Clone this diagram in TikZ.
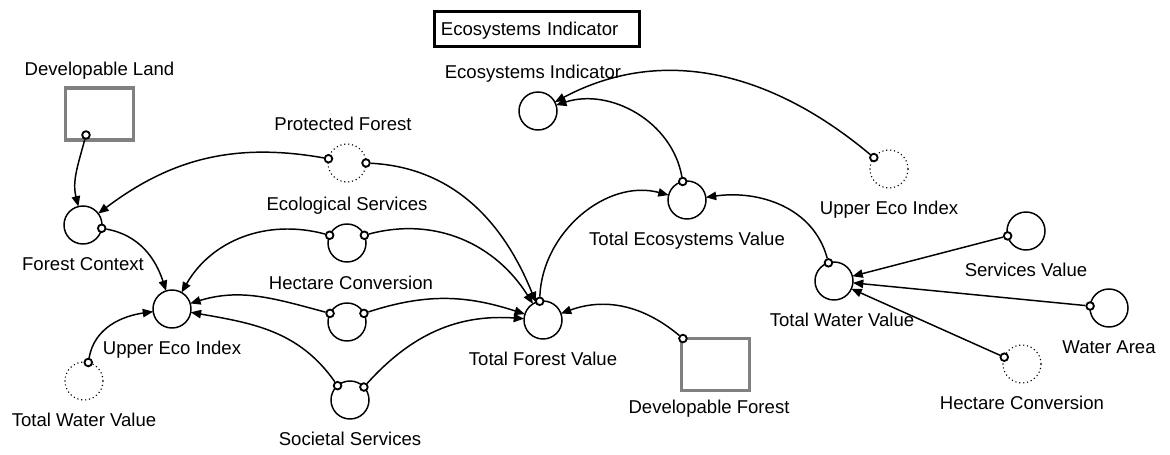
\documentclass[tikz,border=0pt]{standalone}
\usepackage{fontspec}
\setmainfont{Liberation Sans}
\usetikzlibrary{positioning,arrows.meta}
\begin{document}
\begin{tikzpicture}
	[x=0.025cm, y=0.025cm,
	node distance={0.975cm},
	font=\fontsize{13.2pt}{15pt}\selectfont,
	line width=1.05pt,
	>={Triangle[length=0.26cm,width=0.21cm]},
	main/.style = {draw, circle, minimum size=0.95cm, inner sep=0pt, outer sep=0pt},
	ghost/.style = {draw, circle, dotted, line width=0.8pt, minimum size=0.95cm, inner sep=0pt, outer sep=0pt},
	stock/.style = {draw=gray, line width=2.5pt, minimum width=1.69cm, minimum height=1.31cm, inner sep=0pt},
	conn/.style = {draw, circle, fill=white, line width=1.3pt, minimum size=0.19cm, inner sep=0pt},
	lbl/.style = {inner sep=0pt, text height=9.4pt, text depth=0pt}]
\useasboundingbox (0,0) rectangle (1170,454);
\node[draw, line width=2.1pt, minimum height=0.875cm, inner xsep=0.1625cm, text width=4.8cm, align=left, text height=9.4pt, text depth=0pt] (title) at (537,425) {Ecosystems Indicator};
% stocks
\node[stock] (dland) at (99.5,340) {};
\node[lbl] (dland-l) [above of=dland, node distance=1.125cm] {Developable Land};
\node[stock] (dforest) at (715.5,89.5) {};
\node[lbl] (dforest-l) [below of=dforest, node distance=1.0625cm, xshift=-0.1625cm] {Developable Forest};
% left part
\node[main] (fc) at (83,229) {};
\node[lbl] (fc-l) [below of=fc] {Forest Context};
\node[main] (uei) at (172,145) {};
\node[lbl] (uei-l) [below of=uei] {Upper Eco Index};
\node[ghost] (twvl) at (84,73) {};
\node[lbl] (twvl-l) [below of=twvl] {Total Water Value};
\node[ghost] (pf) at (347,291) {};
\node[lbl] (pf-lb) [above of=pf, xshift=-0.1cm] {Protected Forest};
\node[main] (es) at (347,211) {};
\node[lbl] (es-lb) [above of=es] {Ecological Services};
\node[main] (hc) at (347,132) {};
\node[lbl] (hc-lb) [above of=hc, xshift=0.1cm] {Hectare Conversion};
\node[main] (ss) at (350,54) {};
\node[lbl] (ss-lb) [below of=ss] {Societal Services};
\node[main] (tfv) at (543,134) {};
\node[lbl] (tfv-l) [below of=tfv] {Total Forest Value};
% right part
\node[main] (ei) at (538,343) {};
\node[lbl] (ei-l) [above of=ei, xshift=-0.125cm] {Ecosystems Indicator};
\node[main] (tev) at (687,254) {};
\node[lbl] (tev-l) [below of=tev] {Total Ecosystems Value};
\node[ghost] (ueir) at (889,285) {};
\node[lbl] (ueir-l) [below of=ueir] {Upper Eco Index};
\node[main] (twv) at (834,173) {};
\node[lbl] (twv-l) [below of=twv, xshift=0.2cm] {Total Water Value};
\node[main] (sv) at (1026,223) {};
\node[lbl] (sv-l) [below of=sv] {Services Value};
\node[main] (wa) at (1109,146) {};
\node[lbl] (wa-l) [below of=wa] {Water Area};
\node[ghost] (hcr) at (1022,90) {};
\node[lbl] (hcr-l) [below of=hcr] {Hectare Conversion};
% connector ends
\node[conn] (dland-c) at (86,319) {};
\node[conn] (dforest-c) at ([shift={(3,-2)}]dforest.north west) {};
\node[conn] (pf-l) at (pf.167) {};
\node[conn] (pf-r) at (pf.0) {};
\node[conn] (es-l) at (es.156) {};
\node[conn] (es-r) at (es.24) {};
\node[conn] (hc-l) at (hc.153) {};
\node[conn] (hc-r) at (hc.27) {};
\node[conn] (ss-l) at (ss.131) {};
\node[conn] (ss-r) at (ss.43) {};
\node[conn] (fc-c) at (fc.-10) {};
\node[conn] (twvl-c) at (twvl.77) {};
\node[conn] (tfv-c) at (tfv.100) {};
\node[conn] (tev-c) at (tev.103) {};
\node[conn] (ueir-c) at (ueir.143) {};
\node[conn] (twv-c) at (twv.107) {};
\node[conn] (sv-c) at (sv.195) {};
\node[conn] (wa-c) at (wa.174) {};
\node[conn] (hcr-c) at (hcr.159) {};
% links
\draw[->] (dland-c) to [out=255, in=104] (fc);
\draw[->] (pf-l) to [out=170, in=37] (fc);
\draw[->] (pf-r) to [out=-3, in=112] (tfv);
\draw[->] (es-r) to [out=15, in=122] (tfv);
\draw[->] (hc-r) to [out=18, in=162] (tfv);
\draw[->] (ss-r) to [out=48, in=176] (tfv);
\draw[->] (dforest-c) to [out=140, in=20] (tfv);
\draw[->] (fc-c) to [out=-10, in=108] (uei);
\draw[->] (es-l) to [out=165, in=60] (uei);
\draw[->] (hc-l) to [out=165, in=17] (uei);
\draw[->] (ss-l) to [out=125, in=-10] (uei);
\draw[->] (twvl-c) to [out=80, in=188] (uei);
\draw[->] (tfv-c) to [out=88, in=165] (tev);
\draw[->] (tev-c) to [out=100, in=18] (ei);
\draw[->] (ueir-c) to [out=140, in=28] (ei);
\draw[->] (twv-c) to [out=105, in=8] (tev);
\draw[->] (sv-c) -- (twv);
\draw[->] (wa-c) -- (twv);
\draw[->] (hcr-c) -- (twv);
\end{tikzpicture}
\end{document}
